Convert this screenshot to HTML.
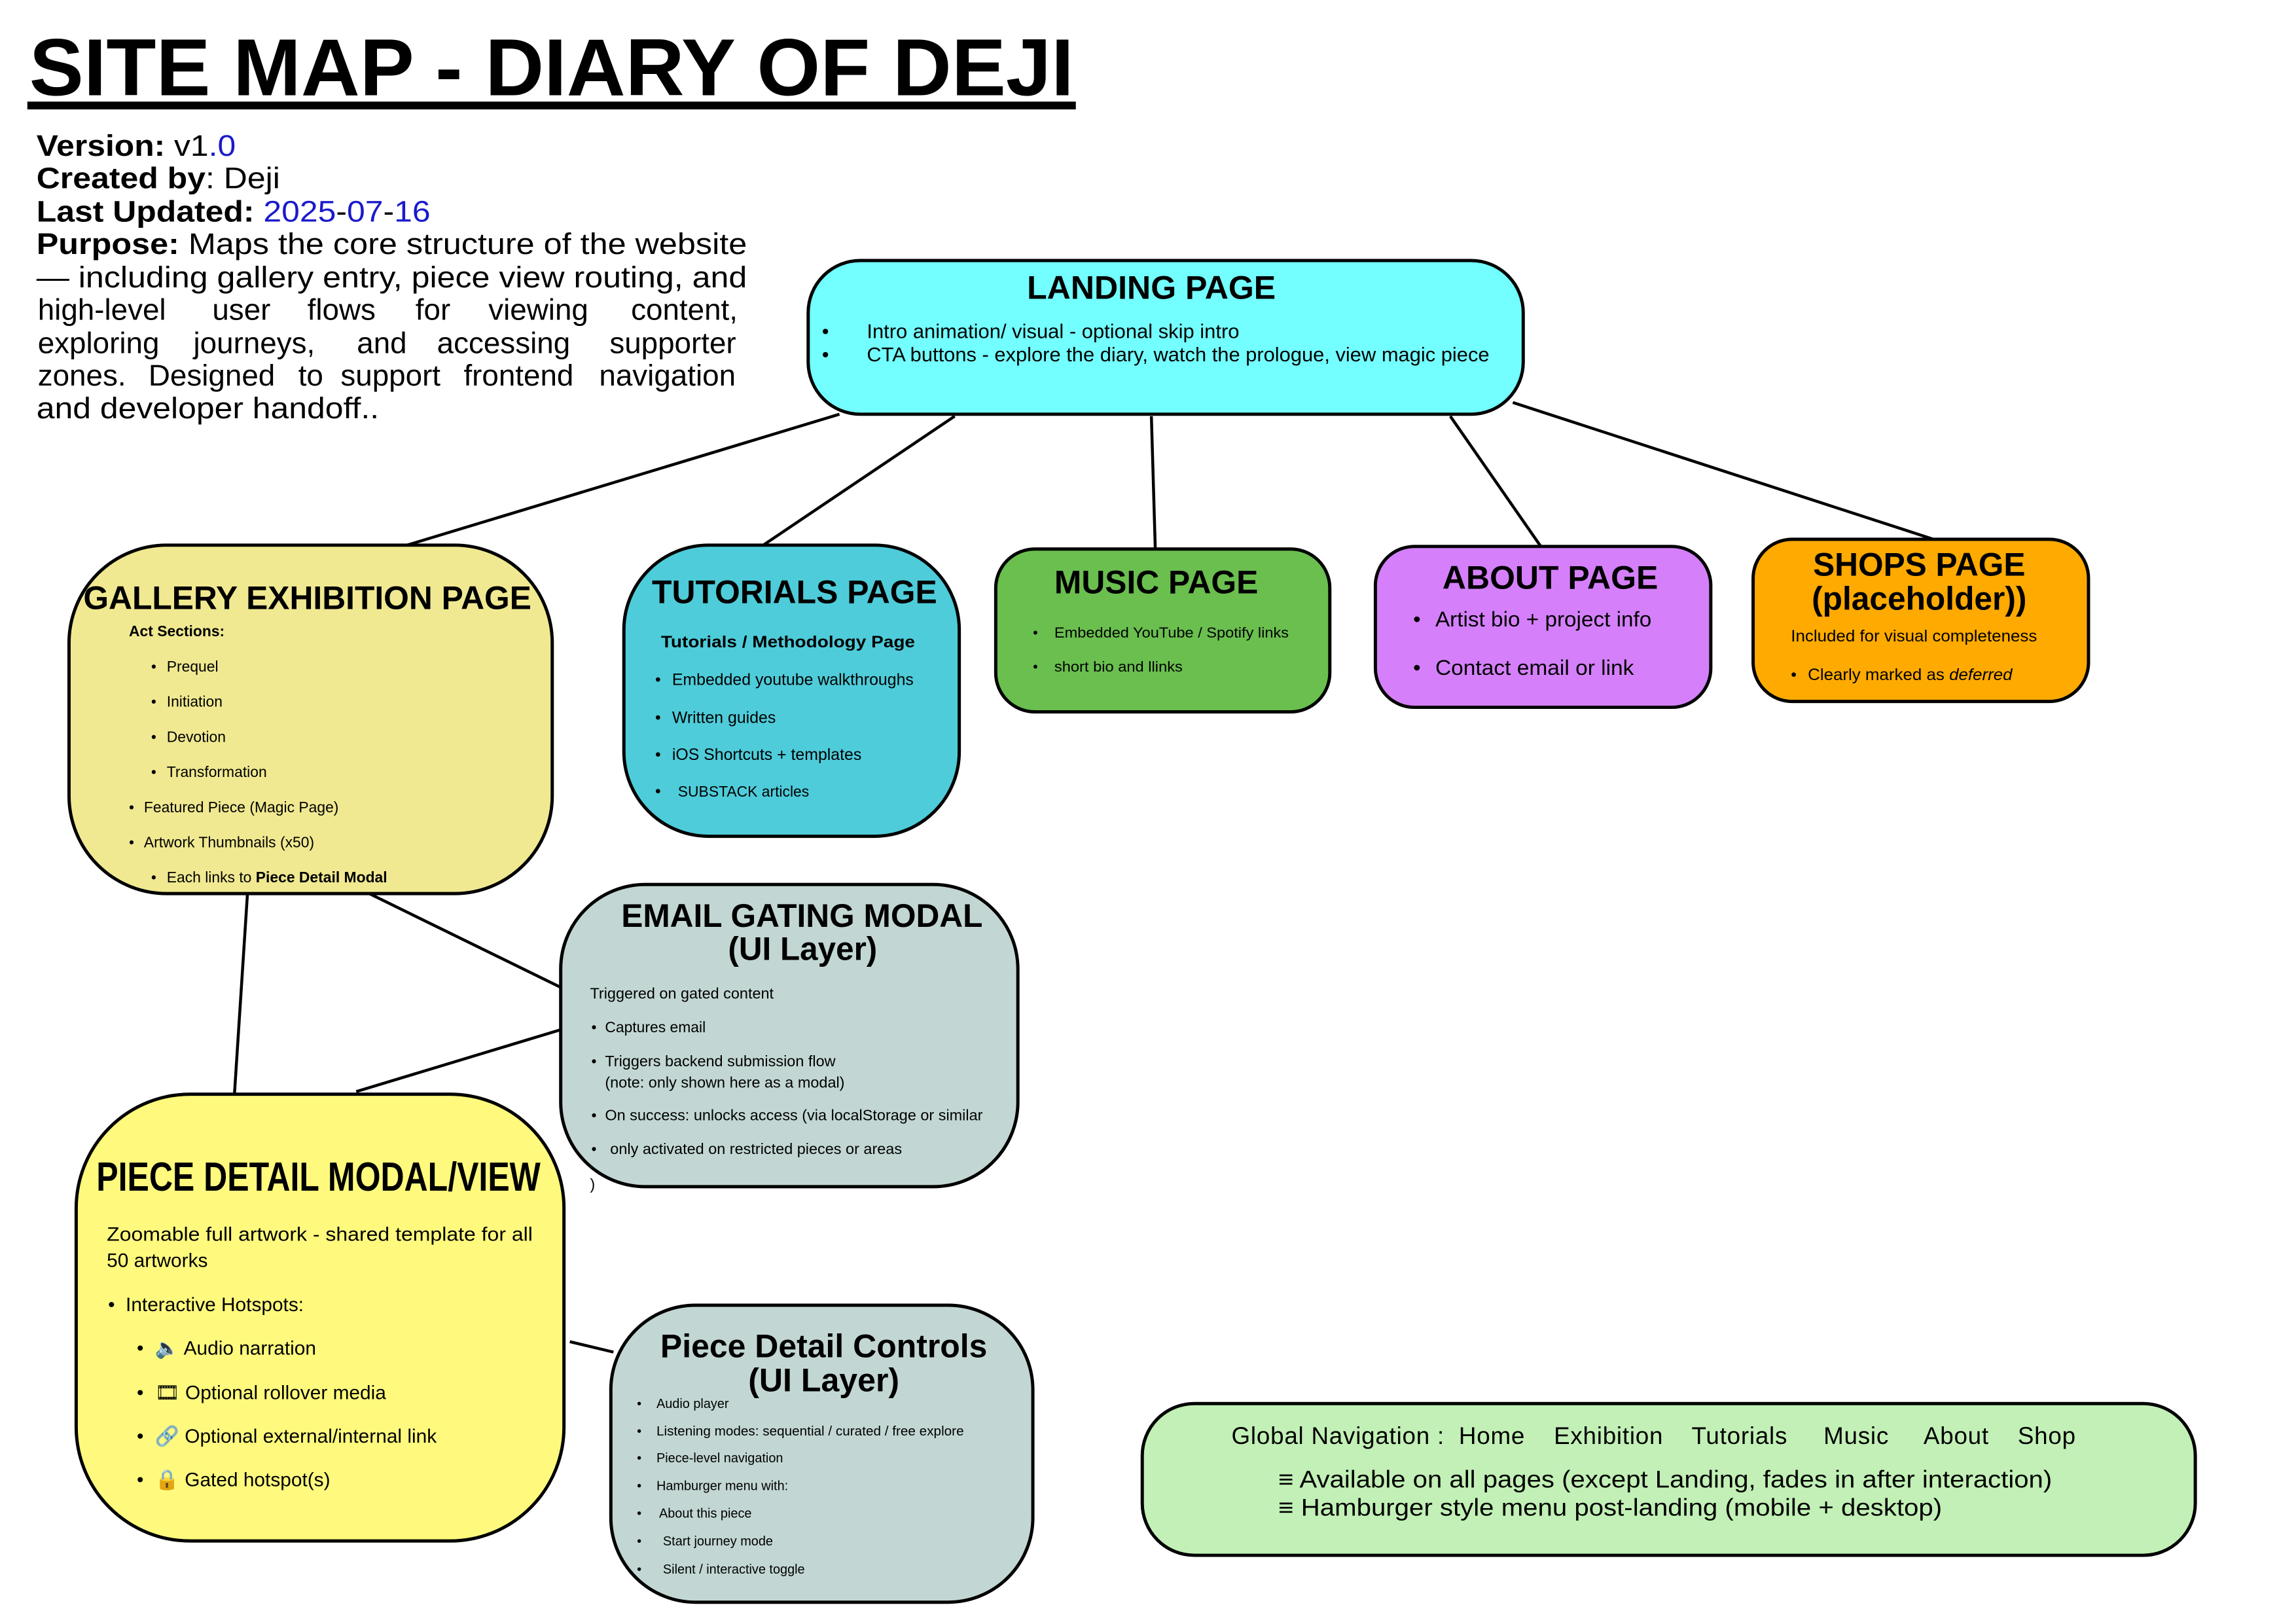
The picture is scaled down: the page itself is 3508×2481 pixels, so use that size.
<!DOCTYPE html>
<html><head><meta charset="utf-8"><style>
html,body{margin:0;padding:0;background:#fff;}
svg{display:block;}
text{font-family:"Liberation Sans","DejaVu Sans",sans-serif;fill:#000;}
.b{font-weight:bold;}
</style></head><body>
<svg width="3508" height="2481" viewBox="0 0 3508 2481" xmlns="http://www.w3.org/2000/svg">
<rect width="3508" height="2481" fill="#fff"/>
<g transform="scale(0.995)">
<!-- title -->
<text x="45" y="146" class="b" font-size="124" textLength="1604" lengthAdjust="spacingAndGlyphs">SITE MAP - DIARY OF DEJI</text>
<rect x="42" y="156" width="1610" height="12" fill="#000"/>
<!-- meta -->
<g font-size="46">
<text x="56" y="239" textLength="306" lengthAdjust="spacingAndGlyphs"><tspan class="b">Version:</tspan> v1<tspan fill="#1a1acc">.0</tspan></text>
<text x="56" y="289" textLength="374" lengthAdjust="spacingAndGlyphs"><tspan class="b">Created by</tspan>: Deji</text>
<text x="56" y="340" textLength="605" lengthAdjust="spacingAndGlyphs"><tspan class="b">Last Updated:</tspan> <tspan fill="#1a1acc">2025</tspan>-<tspan fill="#1a1acc">07</tspan>-<tspan fill="#1a1acc">16</tspan></text>
<text x="56" y="390" textLength="1091" lengthAdjust="spacingAndGlyphs"><tspan class="b">Purpose:</tspan> Maps the core structure of the website</text>
<text x="56" y="441" textLength="1091" lengthAdjust="spacingAndGlyphs">— including gallery entry, piece view routing, and</text>
<text y="491"><tspan x="58">high-level</tspan><tspan x="326">user</tspan><tspan x="472">flows</tspan><tspan x="638">for</tspan><tspan x="750">viewing</tspan><tspan x="969">content,</tspan></text>
<text y="542"><tspan x="58">exploring</tspan><tspan x="297">journeys,</tspan><tspan x="548">and</tspan><tspan x="671">accessing</tspan><tspan x="936">supporter</tspan></text>
<text y="592"><tspan x="58">zones.</tspan><tspan x="228">Designed</tspan><tspan x="458">to</tspan><tspan x="523">support</tspan><tspan x="712">frontend</tspan><tspan x="920">navigation</tspan></text>
<text x="56" y="642" textLength="526" lengthAdjust="spacingAndGlyphs">and developer handoff..</text>
</g>
<!-- connectors -->
<g stroke="#000" stroke-width="4.5" fill="none">
<line x1="1289" y1="636" x2="625" y2="837"/>
<line x1="1466" y1="639" x2="1172" y2="837"/>
<line x1="1768" y1="639" x2="1774" y2="843"/>
<line x1="2227" y1="639" x2="2366" y2="839"/>
<line x1="2323" y1="618" x2="2969" y2="828"/>
<line x1="380" y1="1372" x2="360" y2="1680"/>
<line x1="567" y1="1372" x2="861" y2="1516"/>
<line x1="861" y1="1581" x2="547" y2="1676"/>
<line x1="875" y1="2060" x2="942" y2="2076"/>
</g>
<!-- boxes -->
<g stroke="#000" stroke-width="5">
<rect x="1241" y="400" width="1098" height="236" rx="80" fill="#73FFFF"/>
<rect x="106" y="837" width="742" height="535" rx="150" fill="#F0E991"/>
<rect x="958" y="837" width="515" height="447" rx="130" fill="#4ECCDA"/>
<rect x="1529" y="843" width="513" height="250" rx="60" fill="#6ABF4F"/>
<rect x="2112" y="839" width="515" height="247" rx="60" fill="#D580FA"/>
<rect x="2692" y="828" width="515" height="249" rx="60" fill="#FFAA00"/>
<rect x="861" y="1358" width="702" height="464" rx="130" fill="#C2D7D3"/>
<rect x="117" y="1680" width="749" height="686" rx="175" fill="#FFFA7D"/>
<rect x="938" y="2004" width="648" height="456" rx="130" fill="#C2D7D3"/>
<rect x="1754" y="2155" width="1617" height="233" rx="80" fill="#C2F0B6"/>
</g>
<!-- landing -->
<text x="1577" y="459" class="b" font-size="50" textLength="382" lengthAdjust="spacingAndGlyphs">LANDING PAGE</text>
<g font-size="31">
<text x="1262" y="519">•</text><text x="1331" y="519" textLength="572" lengthAdjust="spacingAndGlyphs">Intro animation/ visual - optional skip intro</text>
<text x="1262" y="555">•</text><text x="1331" y="555" textLength="956" lengthAdjust="spacingAndGlyphs">CTA buttons - explore the diary, watch the prologue, view magic piece</text>
</g>
<!-- gallery -->
<text x="128" y="935" class="b" font-size="50" textLength="688" lengthAdjust="spacingAndGlyphs">GALLERY EXHIBITION PAGE</text>
<g font-size="23">
<text x="198" y="977" class="b">Act Sections:</text>
<text x="232" y="1031">•</text><text x="256" y="1031">Prequel</text>
<text x="232" y="1085">•</text><text x="256" y="1085">Initiation</text>
<text x="232" y="1139">•</text><text x="256" y="1139">Devotion</text>
<text x="232" y="1193">•</text><text x="256" y="1193">Transformation</text>
<text x="198" y="1247">•</text><text x="221" y="1247">Featured Piece (Magic Page)</text>
<text x="198" y="1301">•</text><text x="221" y="1301">Artwork Thumbnails (x50)</text>
<text x="232" y="1355">•</text><text x="256" y="1355">Each links to <tspan class="b">Piece Detail Modal</tspan></text>
</g>
<!-- tutorials -->
<text x="1001" y="926" class="b" font-size="50" textLength="438" lengthAdjust="spacingAndGlyphs">TUTORIALS PAGE</text>
<g font-size="25">
<text x="1015" y="994" class="b" textLength="390" lengthAdjust="spacingAndGlyphs">Tutorials / Methodology Page</text>
<text x="1006" y="1052">•</text><text x="1032" y="1052">Embedded youtube walkthroughs</text>
<text x="1006" y="1110">•</text><text x="1032" y="1110">Written guides</text>
<text x="1006" y="1167">•</text><text x="1032" y="1167">iOS Shortcuts + templates</text>
<text x="1006" y="1223">•</text><text x="1041" y="1223" font-size="23">SUBSTACK articles</text>
</g>
<!-- music -->
<text x="1619" y="911" class="b" font-size="50" textLength="313" lengthAdjust="spacingAndGlyphs">MUSIC PAGE</text>
<g font-size="22">
<text x="1586" y="979">•</text><text x="1619" y="979" textLength="360" lengthAdjust="spacingAndGlyphs">Embedded YouTube / Spotify links</text>
<text x="1586" y="1031">•</text><text x="1619" y="1031" textLength="197" lengthAdjust="spacingAndGlyphs">short bio and llinks</text>
</g>
<!-- about -->
<text x="2215" y="904" class="b" font-size="50" textLength="331" lengthAdjust="spacingAndGlyphs">ABOUT PAGE</text>
<g font-size="33">
<text x="2170" y="962">•</text><text x="2204" y="962" textLength="332" lengthAdjust="spacingAndGlyphs">Artist bio + project info</text>
<text x="2170" y="1036">•</text><text x="2204" y="1036" textLength="305" lengthAdjust="spacingAndGlyphs">Contact email or link</text>
</g>
<!-- shops -->
<text x="2784" y="884" class="b" font-size="50" textLength="326" lengthAdjust="spacingAndGlyphs">SHOPS PAGE</text>
<text x="2782" y="936" class="b" font-size="50" textLength="330" lengthAdjust="spacingAndGlyphs">(placeholder))</text>
<g font-size="25">
<text x="2750" y="985" textLength="378" lengthAdjust="spacingAndGlyphs">Included for visual completeness</text>
<text x="2750" y="1044">•</text><text x="2776" y="1044" textLength="314" lengthAdjust="spacingAndGlyphs">Clearly marked as <tspan font-style="italic">deferred</tspan></text>
</g>
<!-- email -->
<text x="954" y="1423" class="b" font-size="50" textLength="555" lengthAdjust="spacingAndGlyphs">EMAIL GATING MODAL</text>
<text x="1118" y="1474" class="b" font-size="50" textLength="229" lengthAdjust="spacingAndGlyphs">(UI Layer)</text>
<g font-size="23">
<text x="906" y="1533" textLength="282" lengthAdjust="spacingAndGlyphs">Triggered on gated content</text>
<text x="908" y="1585">•</text><text x="929" y="1585">Captures email</text>
<text x="908" y="1637">•</text><text x="929" y="1637" textLength="354" lengthAdjust="spacingAndGlyphs">Triggers backend submission flow</text>
<text x="929" y="1670" textLength="368" lengthAdjust="spacingAndGlyphs">(note: only shown here as a modal)</text>
<text x="908" y="1720">•</text><text x="929" y="1720" textLength="580" lengthAdjust="spacingAndGlyphs">On success: unlocks access (via localStorage or similar</text>
<text x="908" y="1772">•</text><text x="937" y="1772" textLength="448" lengthAdjust="spacingAndGlyphs">only activated on restricted pieces or areas</text>
<text x="906" y="1826">)</text>
</g>
<!-- piece -->
<text x="148" y="1828" class="b" font-size="62" textLength="682" lengthAdjust="spacingAndGlyphs">PIECE DETAIL MODAL/VIEW</text>
<g font-size="30">
<text x="164" y="1905" textLength="654" lengthAdjust="spacingAndGlyphs">Zoomable full artwork - shared template for all</text>
<text x="164" y="1945">50 artworks</text>
<text x="166" y="2013">•</text><text x="193" y="2013">Interactive Hotspots:</text>
<text x="210" y="2080">•</text><text x="238" y="2080">🔈 Audio narration</text>
<text x="210" y="2148">•</text><text x="238" y="2148">🎞 Optional rollover media</text>
<text x="210" y="2215">•</text><text x="238" y="2215">🔗 Optional external/internal link</text>
<text x="210" y="2282">•</text><text x="238" y="2282">🔒 Gated hotspot(s)</text>
</g>
<!-- controls -->
<text x="1014" y="2084" class="b" font-size="50" textLength="502" lengthAdjust="spacingAndGlyphs">Piece Detail Controls</text>
<text x="1149" y="2136" class="b" font-size="50" textLength="232" lengthAdjust="spacingAndGlyphs">(UI Layer)</text>
<g font-size="20">
<text x="978" y="2162">•</text><text x="1008" y="2162">Audio player</text>
<text x="978" y="2204">•</text><text x="1008" y="2204" textLength="472" lengthAdjust="spacingAndGlyphs">Listening modes: sequential / curated / free explore</text>
<text x="978" y="2245">•</text><text x="1008" y="2245">Piece-level navigation</text>
<text x="978" y="2288">•</text><text x="1008" y="2288">Hamburger menu with:</text>
<text x="978" y="2330">•</text><text x="1012" y="2330">About this piece</text>
<text x="978" y="2373">•</text><text x="1018" y="2373">Start journey mode</text>
<text x="978" y="2416">•</text><text x="1018" y="2416">Silent / interactive toggle</text>
</g>
<!-- global nav -->
<g font-size="37">
<text x="1891" y="2217" textLength="1296" lengthAdjust="spacing" xml:space="preserve">Global Navigation :  Home    Exhibition    Tutorials     Music     About    Shop</text>
<text x="1963" y="2284" textLength="1188" lengthAdjust="spacingAndGlyphs">≡ Available on all pages (except Landing, fades in after interaction)</text>
<text x="1963" y="2327" textLength="1019" lengthAdjust="spacingAndGlyphs">≡ Hamburger style menu post-landing (mobile + desktop)</text>
</g>
</g>
</svg>
</body></html>
